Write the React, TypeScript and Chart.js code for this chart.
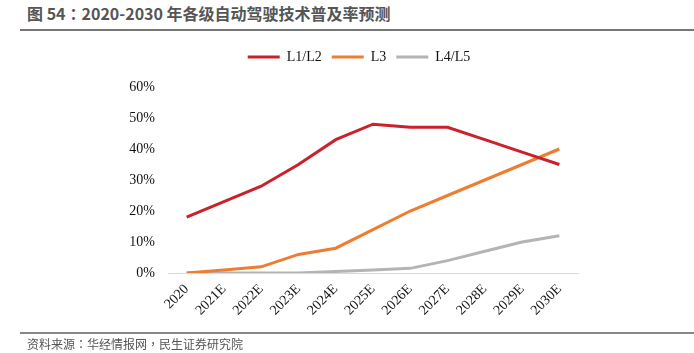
import React, { useEffect, useRef } from "react";
import { Chart, registerables } from "chart.js";

Chart.register(...registerables);

const categories = ["2020", "2021E", "2022E", "2023E", "2024E", "2025E", "2026E", "2027E", "2028E", "2029E", "2030E"];
const l12 = [18, 23, 28, 35, 43, 48, 47, 47, 43, 39, 35];
const l3 = [0, 1, 2, 6, 8, 14, 20, 25, 30, 35, 40];
const l45 = [0, 0, 0, 0, 0.5, 1, 1.5, 4, 7, 10, 12];
const seriesNames = ["L1/L2", "L3", "L4/L5"];
const yTicks = [0, 10, 20, 30, 40, 50, 60];

const titleParts = ["图 54", "：", "2020-2030 年各级自动驾驶技术普及率预测"];
const sourceParts = ["资料来源", "：", "华经情报网", "，", "民生证券研究院"];

const punct = "'Noto Sans CJK TC', 'Noto Sans CJK SC', sans-serif";

function renderParts(parts: string[]) {
  return parts.map((p, i) =>
    p === "：" || p === "，" ? (
      <span key={i} style={{ fontFamily: punct }}>
        {p}
      </span>
    ) : (
      <span key={i}>{p}</span>
    )
  );
}

const legendShift = {
  id: "legendShift",
  afterLayout(c: any) {
    const l = c.legend;
    if (l) {
      l.left += 8;
      l.right += 8;
    }
  },
};

export default function App() {
  const ref = useRef<HTMLCanvasElement | null>(null);

  useEffect(() => {
    if (!ref.current) return;
    const serif = "'Liberation Serif', 'Times New Roman', serif";
    const chart = new Chart(ref.current, {
      type: "line",
      data: {
        labels: categories,
        datasets: [
          { label: seriesNames[0], data: l12, borderColor: "#C8232B", backgroundColor: "#C8232B" },
          { label: seriesNames[1], data: l3, borderColor: "#EE7D31", backgroundColor: "#EE7D31" },
          { label: seriesNames[2], data: l45, borderColor: "#B4B4B4", backgroundColor: "#B4B4B4" },
        ].map((d) => ({ ...d, borderWidth: 3, pointRadius: 0, tension: 0, fill: false })),
      },
      plugins: [legendShift],
      options: {
        responsive: false,
        animation: false,
        layout: { padding: { left: 124, right: 116, top: 40, bottom: 30 } },
        plugins: {
          legend: {
            display: true,
            position: "top",
            labels: {
              font: { family: serif, size: 14 },
              color: "#111",
              boxWidth: 32,
              boxHeight: 3,
              padding: 10,
              generateLabels: (c: any) =>
                c.data.datasets.map((ds: any, i: number) => ({
                  text: ds.label,
                  fillStyle: ds.borderColor,
                  strokeStyle: ds.borderColor,
                  lineWidth: 0,
                  fontColor: "#111",
                  datasetIndex: i,
                  hidden: false,
                })),
            },
          },
          subtitle: {
            display: true,
            text: "",
            position: "top",
            weight: 500,
            font: { size: 10 },
            padding: { top: 0, bottom: 1 },
          } as any,
          title: { display: false },
          tooltip: { enabled: false },
        },
        scales: {
          x: {
            type: "category",
            offset: true,
            grid: { display: false, drawTicks: false },
            border: { display: true, color: "#D9D9D9", width: 1 },
            ticks: {
              font: { family: serif, size: 14 },
              color: "#111",
              maxRotation: 45,
              minRotation: 45,
              autoSkip: false,
              padding: 8,
            },
            afterFit: (s: any) => {
              s.height = 50;
            },
          },
          y: {
            min: 0,
            max: 60,
            grid: { display: false, drawTicks: false },
            border: { display: false },
            afterBuildTicks: (s: any) => {
              s.ticks = yTicks.map((v) => ({ value: v }));
            },
            ticks: {
              font: { family: serif, size: 14 },
              color: "#111",
              padding: 13,
              callback: (v: any) => v + "%",
            },
            afterFit: (s: any) => {
              s.width = 44;
            },
          },
        },
      },
    });
    return () => chart.destroy();
  }, []);

  return (
    <div style={{ position: "fixed", left: 0, top: 0, width: 694, height: 353, background: "#fff", overflow: "hidden" }}>
      <div
        style={{
          position: "absolute",
          left: 27,
          top: 3,
          fontFamily: "'Noto Sans CJK SC', 'Noto Sans', sans-serif",
          fontWeight: 700,
          fontSize: 16,
          lineHeight: "21px",
          color: "#555",
          whiteSpace: "nowrap",
        }}
      >
        {renderParts(titleParts)}
      </div>
      <div style={{ position: "absolute", left: 20, top: 29, width: 674, height: 2, background: "#777" }} />
      <canvas ref={ref} width={694} height={353} style={{ position: "absolute", left: 0, top: 0 }} />
      <div style={{ position: "absolute", left: 20, top: 332, width: 674, height: 2, background: "#888" }} />
      <div
        style={{
          position: "absolute",
          left: 27,
          top: 336,
          fontFamily: "'Noto Sans CJK SC', 'Noto Sans', sans-serif",
          fontSize: 12,
          lineHeight: "16px",
          color: "#555",
          whiteSpace: "nowrap",
        }}
      >
        {renderParts(sourceParts)}
      </div>
    </div>
  );
}
